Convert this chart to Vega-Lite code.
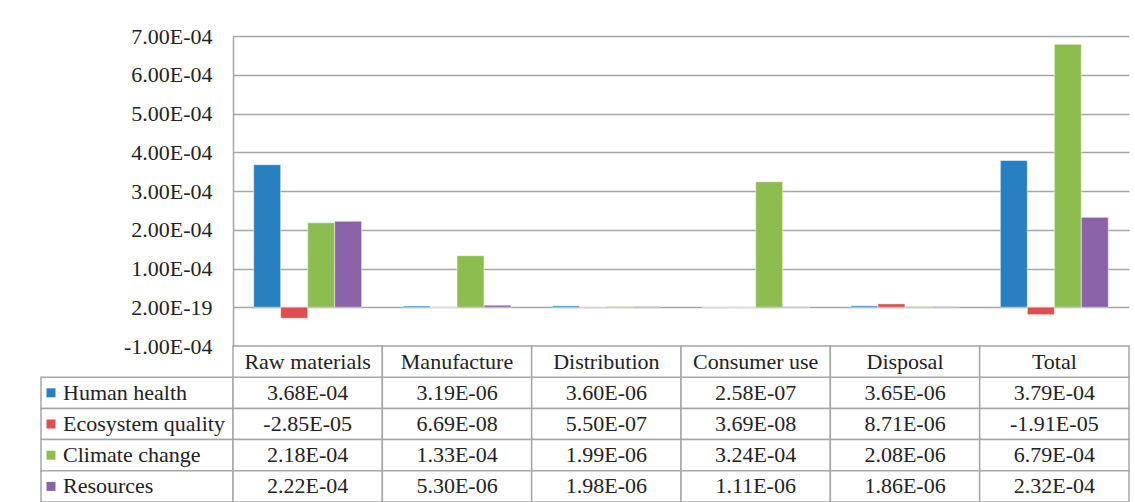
{
  "$schema": "https://vega.github.io/schema/vega-lite/v6.json",
  "padding": {"left": 40, "top": 25, "right": 7, "bottom": 0},
  "config": {"view": {"stroke": null}, "font": "Liberation Serif", "concat": {"spacing": 0}},
  "datasets": {
    "vals": [
      {"category": "Raw materials", "series": "Human health", "value": 3.68e-4},
      {"category": "Manufacture", "series": "Human health", "value": 3.19e-6},
      {"category": "Distribution", "series": "Human health", "value": 3.60e-6},
      {"category": "Consumer use", "series": "Human health", "value": 2.58e-7},
      {"category": "Disposal", "series": "Human health", "value": 3.65e-6},
      {"category": "Total", "series": "Human health", "value": 3.79e-4},
      {"category": "Raw materials", "series": "Ecosystem quality", "value": -2.85e-5},
      {"category": "Manufacture", "series": "Ecosystem quality", "value": 6.69e-8},
      {"category": "Distribution", "series": "Ecosystem quality", "value": 5.50e-7},
      {"category": "Consumer use", "series": "Ecosystem quality", "value": 3.69e-8},
      {"category": "Disposal", "series": "Ecosystem quality", "value": 8.71e-6},
      {"category": "Total", "series": "Ecosystem quality", "value": -1.91e-5},
      {"category": "Raw materials", "series": "Climate change", "value": 2.18e-4},
      {"category": "Manufacture", "series": "Climate change", "value": 1.33e-4},
      {"category": "Distribution", "series": "Climate change", "value": 1.99e-6},
      {"category": "Consumer use", "series": "Climate change", "value": 3.24e-4},
      {"category": "Disposal", "series": "Climate change", "value": 2.08e-6},
      {"category": "Total", "series": "Climate change", "value": 6.79e-4},
      {"category": "Raw materials", "series": "Resources", "value": 2.22e-4},
      {"category": "Manufacture", "series": "Resources", "value": 5.30e-6},
      {"category": "Distribution", "series": "Resources", "value": 1.98e-6},
      {"category": "Consumer use", "series": "Resources", "value": 1.11e-6},
      {"category": "Disposal", "series": "Resources", "value": 1.86e-6},
      {"category": "Total", "series": "Resources", "value": 2.32e-4}
    ]
  },
  "columns": 2,
  "spacing": 0,
  "bounds": "flush",
  "concat": [
    {
      "width": 192,
      "height": 310,
      "data": {"values": [{}]},
      "mark": {"type": "text"},
      "encoding": {"text": {"value": ""}}
    },
    {
      "width": 896,
      "height": 310,
      "data": {"name": "vals"},
      "mark": {"type": "bar", "stroke": "white", "strokeWidth": 1, "strokeOpacity": 0.5},
      "encoding": {
        "x": {"field": "category", "type": "nominal",
              "scale": {"domain": ["Raw materials", "Manufacture", "Distribution", "Consumer use", "Disposal", "Total"], "paddingInner": 0.277, "paddingOuter": 0.1385},
              "axis": null},
        "xOffset": {"field": "series", "type": "nominal",
                    "scale": {"domain": ["Human health", "Ecosystem quality", "Climate change", "Resources"], "paddingInner": 0, "paddingOuter": 0}},
        "y": {"field": "value", "type": "quantitative",
              "scale": {"domain": [-0.0001, 0.0007], "nice": false, "zero": false},
              "axis": {"values": [-0.0001, 0, 0.0001, 0.0002, 0.0003, 0.0004, 0.0005, 0.0006, 0.0007],
                       "title": null,
                       "labelExpr": "datum.value == 0 ? '2.00E-19' : replace(replace(upper(format(datum.value, '.2e')), '\u2212', '-'), 'E-', 'E-0')",
                       "grid": true, "gridColor": "#A6A6A6", "gridWidth": 1.5,
                       "domainColor": "#A6A6A6", "domainWidth": 1.5,
                       "ticks": false, "labelPadding": 21,
                       "labelFont": "Liberation Serif", "labelFontSize": 22, "labelColor": "#222222"}},
        "color": {"field": "series", "type": "nominal",
                  "scale": {"domain": ["Human health", "Ecosystem quality", "Climate change", "Resources"],
                            "range": ["#2680C2", "#E04D4E", "#8EBD4F", "#8A63A8"]},
                  "legend": null}
      }
    },
    {
      "width": 192,
      "height": 156,
      "data": {"name": "vals"},
      "transform": [{"aggregate": [{"op": "count", "as": "n"}], "groupby": ["series"]}],
      "encoding": {
        "y": {"field": "series", "type": "nominal",
              "scale": {"domain": ["hdr", "Human health", "Ecosystem quality", "Climate change", "Resources"], "paddingInner": 0, "paddingOuter": 0},
              "axis": null}
      },
      "layer": [
        {
          "mark": {"type": "rect", "fill": "white", "stroke": "#A6A6A6", "strokeWidth": 1.5},
          "encoding": {"x": {"datum": "lbl", "type": "nominal", "scale": {"paddingInner": 0, "paddingOuter": 0}, "axis": null}}
        },
        {
          "mark": {"type": "point", "shape": "square", "filled": true, "size": 81, "opacity": 1, "xOffset": 10},
          "encoding": {
            "x": {"datum": "lbl", "type": "nominal", "bandPosition": 0, "axis": null},
            "color": {"field": "series", "type": "nominal",
                      "scale": {"domain": ["Human health", "Ecosystem quality", "Climate change", "Resources"],
                                "range": ["#2680C2", "#E04D4E", "#8EBD4F", "#8A63A8"]},
                      "legend": null}
          }
        },
        {
          "mark": {"type": "text", "align": "left", "dx": 22, "fontSize": 22, "color": "#222222", "font": "Liberation Serif"},
          "encoding": {
            "x": {"datum": "lbl", "type": "nominal", "bandPosition": 0, "axis": null},
            "text": {"field": "series"}
          }
        }
      ]
    },
    {
      "width": 896,
      "height": 156,
      "layer": [
        {
          "data": {"name": "vals"},
          "mark": {"type": "rect", "fill": "white", "stroke": "#A6A6A6", "strokeWidth": 1.5},
          "encoding": {
            "x": {"field": "category", "type": "nominal",
                  "scale": {"domain": ["Raw materials", "Manufacture", "Distribution", "Consumer use", "Disposal", "Total"], "paddingInner": 0, "paddingOuter": 0},
                  "axis": null},
            "y": {"field": "series", "type": "nominal",
                  "scale": {"domain": ["hdr", "Human health", "Ecosystem quality", "Climate change", "Resources"], "paddingInner": 0, "paddingOuter": 0},
                  "axis": null}
          }
        },
        {
          "data": {"name": "vals"},
          "transform": [{"calculate": "replace(replace(upper(format(datum.value, '.2e')), '\u2212', '-'), 'E-', 'E-0')", "as": "label"}],
          "mark": {"type": "text", "fontSize": 22, "color": "#222222", "font": "Liberation Serif"},
          "encoding": {
            "x": {"field": "category", "type": "nominal", "axis": null},
            "y": {"field": "series", "type": "nominal", "axis": null},
            "text": {"field": "label"}
          }
        },
        {
          "data": {"name": "vals"},
          "transform": [{"aggregate": [{"op": "count", "as": "n"}], "groupby": ["category"]}],
          "mark": {"type": "rect", "fill": "white", "stroke": "#A6A6A6", "strokeWidth": 1.5},
          "encoding": {
            "x": {"field": "category", "type": "nominal", "axis": null},
            "y": {"datum": "hdr", "type": "nominal", "axis": null}
          }
        },
        {
          "data": {"name": "vals"},
          "transform": [{"aggregate": [{"op": "count", "as": "n"}], "groupby": ["category"]}],
          "mark": {"type": "text", "fontSize": 22, "color": "#222222", "font": "Liberation Serif"},
          "encoding": {
            "x": {"field": "category", "type": "nominal", "axis": null},
            "y": {"datum": "hdr", "type": "nominal", "axis": null},
            "text": {"field": "category"}
          }
        }
      ]
    }
  ]
}
